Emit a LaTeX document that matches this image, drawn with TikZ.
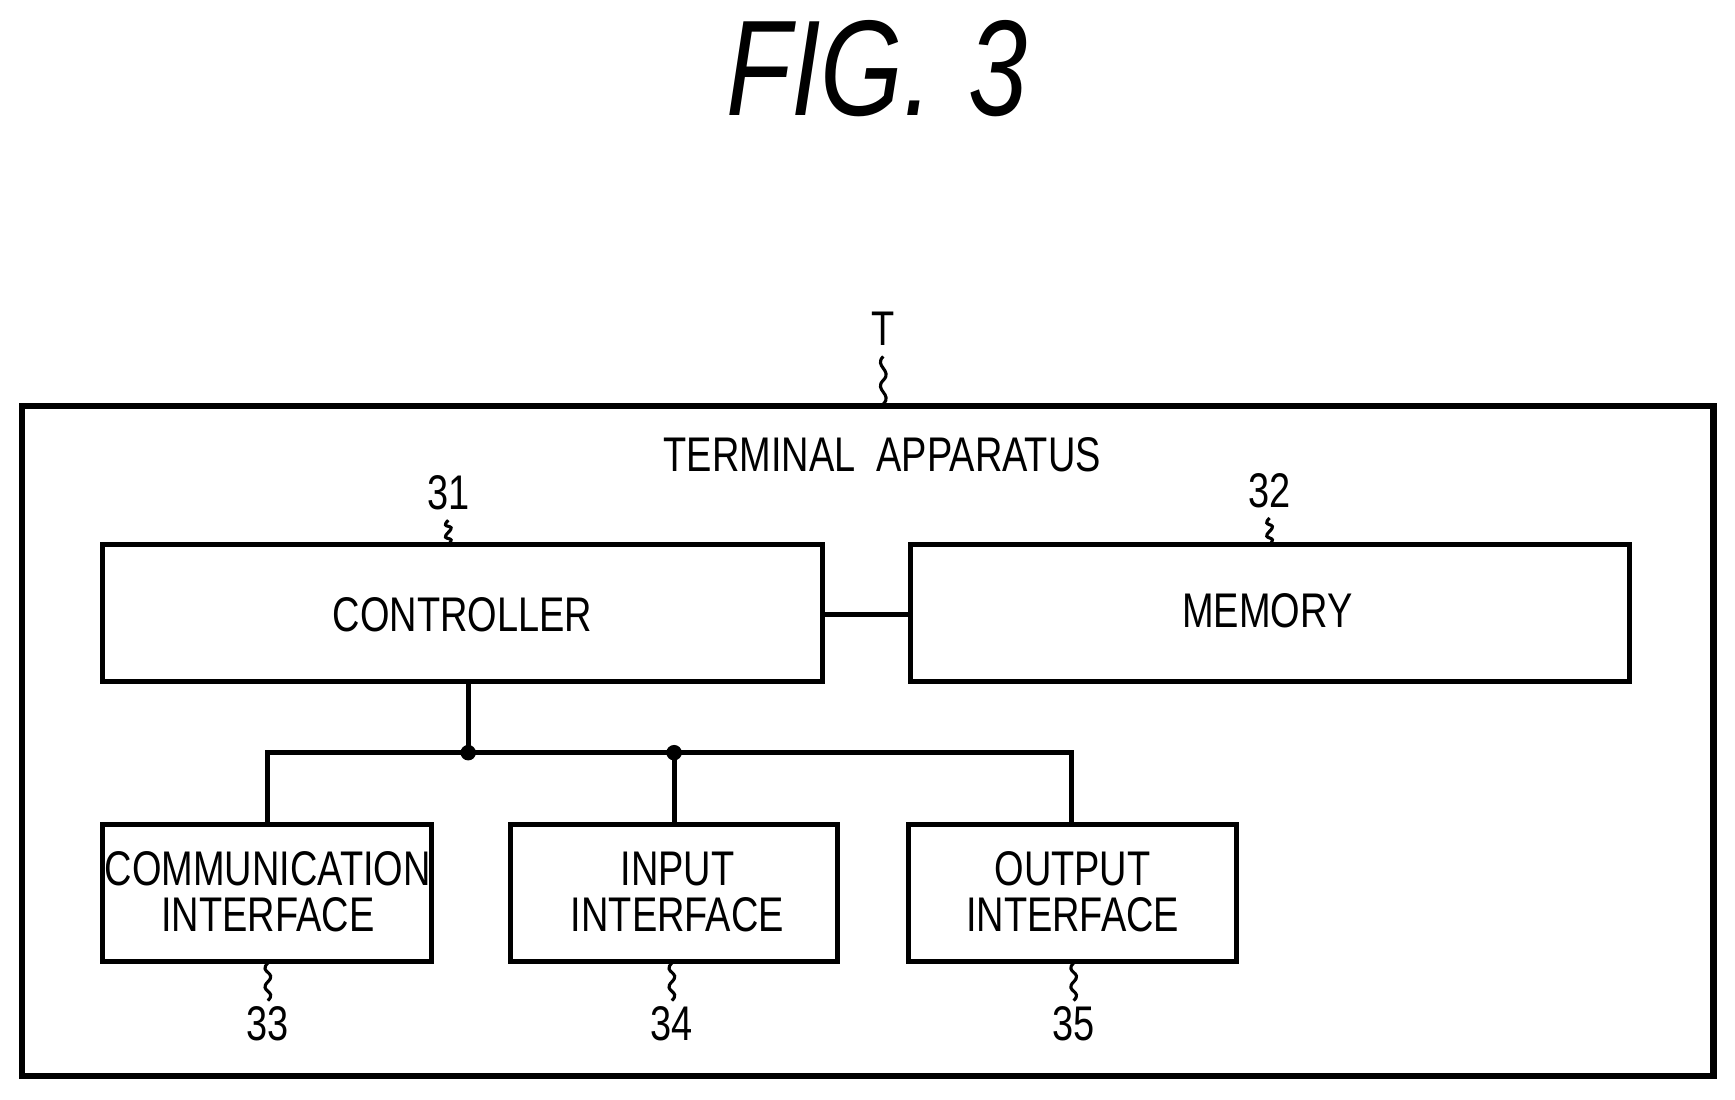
\documentclass[tikz,border=0pt]{standalone}
\usepackage{fontspec}
\setmainfont{Liberation Sans}
\usetikzlibrary{positioning, calc}
\def\squig#1#2{%
    \draw[thick] (#1) .. controls +(-9,9) and +(9,-9) .. ($(#1)!0.5!(#2)$)
        .. controls +(-9,9) and +(9,-9) .. (#2);
}
\newcommand\cond[1]{\scalebox{0.78}[1]{#1}}
\begin{document}
\begin{tikzpicture}[x=0.01cm, y=-0.01cm,
    block/.style={draw, line width=1.3pt, inner sep=0pt},
    lbl/.style={font=\fontsize{12.5}{14}\selectfont, inner sep=0pt},
    wire/.style={line width=1.3pt}]
    \useasboundingbox (0,0) rectangle (1567.5,993);

    % title
    \node[font=\fontsize{35}{40}\selectfont\itshape] (fig) at (792,62) {\cond{FIG.\,\,3}};

    % frame
    \draw[block, line width=1.6pt] (20,367) rectangle (1548,972);
    \node[lbl] (tname) at (797,411) {\cond{TERMINAL\ \ APPARATUS}};
    \node[lbl] (tref) at (798,297) {\cond{T}};
    \coordinate (t1) at (798,322);
    \coordinate (t2) at (798,365);
    \squig{t1}{t2}

    % blocks
    \draw[block] (93,492) rectangle (743,616);
    \node[lbl] (ctrl) at (418,555) {\cond{CONTROLLER}};
    \draw[block] (823,492) rectangle (1472,616);
    \node[lbl] (mem) at (1145,552) {\cond{MEMORY}};
    \draw[block] (93,745) rectangle (390,869);
    \node[lbl, align=center] (comm) at (242,806) {\cond{\shortstack{COMMUNICATION\\INTERFACE}}};
    \draw[block] (461,745) rectangle (757,869);
    \node[lbl, align=center] (inp) at (612,806) {\cond{\shortstack{INPUT\\INTERFACE}}};
    \draw[block] (821,745) rectangle (1117,869);
    \node[lbl, align=center] (outp) at (969,806) {\cond{\shortstack{OUTPUT\\INTERFACE}}};

    % reference numerals
    \foreach \name/\num/\x/\ya/\yb/\yl in {
        r31/31/405/470/492/445,
        r32/32/1147/468/492/443,
        r33/33/242/870/904/925,
        r34/34/607/870/904/925,
        r35/35/970/870/904/925}{
        \node[lbl] (\name) at (\x,\yl) {\cond{\num}};
        \coordinate (\name a) at (\x,\ya);
        \coordinate (\name b) at (\x,\yb);
        \squig{\name a}{\name b}
    }

    % connections
    \coordinate (cb) at (743,555);
    \coordinate (mb) at (823,555);
    \draw[wire] (cb) -- (mb);
    \coordinate (c0) at (423,616);
    \coordinate (j1) at (423,680);
    \coordinate (j2) at (609,680);
    \coordinate (bl) at (242,680);
    \coordinate (br) at (968,680);
    \draw[wire] (c0) -- (j1);
    \draw[wire] (242,745) -- (bl) -- (br) -- (968,745);
    \draw[wire] (j2) -- (609,745);
    \fill (j1) circle (7);
    \fill (j2) circle (7);
\end{tikzpicture}
\end{document}
